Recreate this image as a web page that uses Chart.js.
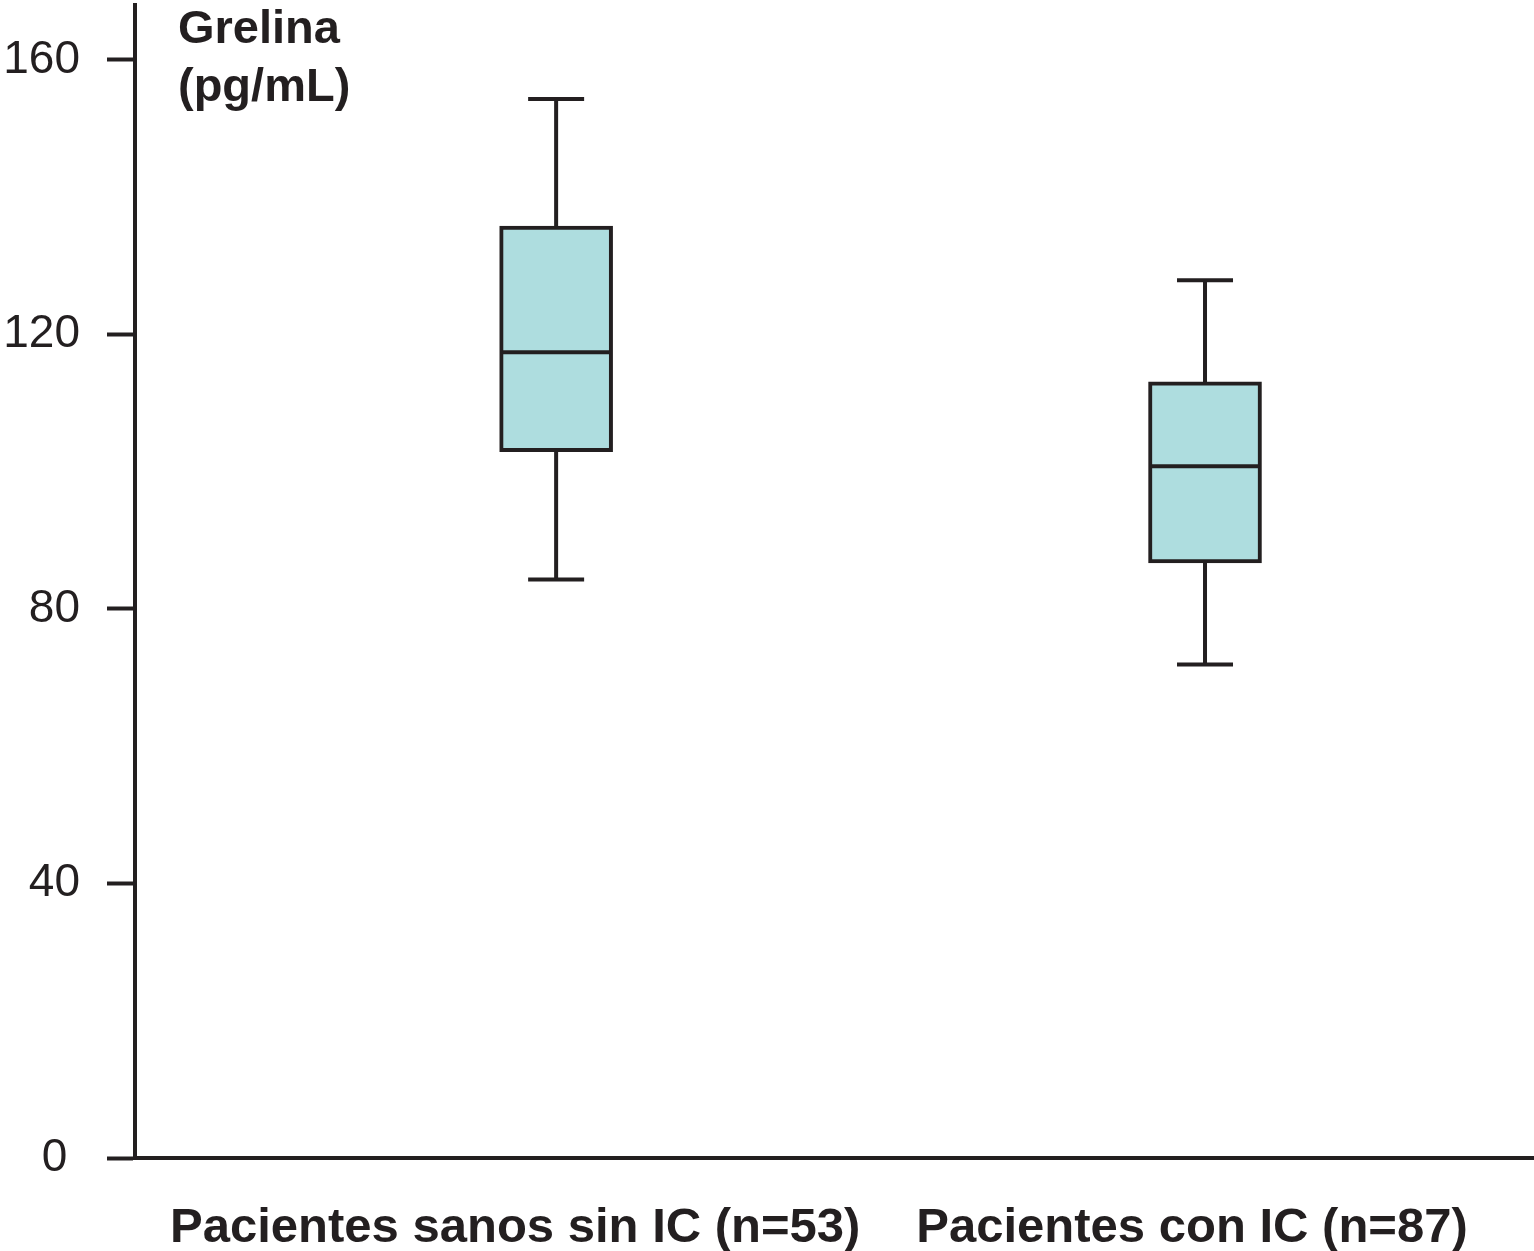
<!DOCTYPE html>
<html>
<head>
<meta charset="utf-8">
<script src="https://cdn.jsdelivr.net/npm/chart.js@4"></script>
<style>
  html, body { margin: 0; padding: 0; background: #ffffff; overflow: hidden; }
  #wrap { position: relative; width: 1534px; height: 1251px; }
</style>
</head>
<body>
<div id="wrap"><canvas id="c"></canvas></div>
<script>
// ---- data ----
const categories = ['Pacientes sanos sin IC (n=53)', 'Pacientes con IC (n=87)'];
const whiskerMin = [84.3, 71.9];
const q1 = [102.9, 86.7];
const median = [117.4, 100.8];
const q3 = [135.8, 113.1];
const whiskerMax = [154.3, 127.9];
const yTicks = [0, 40, 80, 120, 160];
const yTitle = ['Grelina', '(pg/mL)'];

// ---- styling / layout ----
const INK = '#231f20';
const BOX_FILL = '#aedddf';
const FONT = "'Liberation Sans', Arial, Helvetica, sans-serif";
const LABEL_NUDGE = [-0.063, -0.02]; // category label shift relative to box centre (x units)

const xPos = categories.map((_, i) => i + 1);

const datasets = [];
// whisker stems (drawn behind the boxes)
xPos.forEach((x, i) => {
  datasets.push({
    type: 'line',
    data: [{x: x, y: whiskerMin[i]}, {x: x, y: whiskerMax[i]}],
    borderColor: INK,
    borderWidth: 4,
    pointRadius: 0,
    fill: false,
    order: 3
  });
});
// boxes (q1..q3)
datasets.push({
  type: 'bar',
  data: xPos.map((x, i) => ({x: x, y: [q1[i], q3[i]]})),
  backgroundColor: BOX_FILL,
  borderColor: INK,
  borderWidth: 4,
  borderSkipped: false,
  barThickness: 113,
  order: 2
});
// medians
datasets.push({
  type: 'scatter',
  data: xPos.map((x, i) => ({x: x, y: median[i]})),
  pointStyle: 'line',
  pointRadius: 54,
  pointBorderWidth: 4,
  pointBorderColor: INK,
  borderColor: INK,
  order: 1
});
// whisker caps
datasets.push({
  type: 'scatter',
  data: xPos.map((x, i) => ({x: x, y: whiskerMin[i]})).concat(xPos.map((x, i) => ({x: x, y: whiskerMax[i]}))),
  pointStyle: 'line',
  pointRadius: 28,
  pointBorderWidth: 4,
  pointBorderColor: INK,
  borderColor: INK,
  order: 1
});

const titlePlugin = {
  id: 'yTitle',
  afterDraw(chart) {
    const ctx = chart.ctx;
    const a = chart.chartArea;
    ctx.save();
    ctx.fillStyle = INK;
    ctx.font = 'bold 47px ' + FONT;
    ctx.textAlign = 'left';
    ctx.textBaseline = 'alphabetic';
    yTitle.forEach((t, i) => ctx.fillText(t, a.left + 43, 43 + i * 58));
    ctx.restore();
  }
};

new Chart(document.getElementById('c'), {
  type: 'bar',
  data: { datasets: datasets },
  options: {
    responsive: true,
    maintainAspectRatio: false,
    animation: false,
    layout: { autoPadding: false, padding: { top: 5, right: 0, bottom: 0, left: 0 } },
    plugins: { legend: { display: false }, tooltip: { enabled: false } },
    scales: {
      x: {
        type: 'linear',
        min: 0.351,
        max: 2.507,
        offset: false,
        bounds: 'data',
        grid: { display: false, offset: false },
        border: { display: true, color: INK, width: 4 },
        afterBuildTicks: (scale) => { scale.ticks = xPos.map((v, i) => ({ value: v + LABEL_NUDGE[i] })); },
        afterFit: (scale) => { scale.paddingLeft = 0; scale.paddingRight = 0; scale.height = 93; },
        ticks: {
          autoSkip: false,
          maxRotation: 0,
          color: INK,
          font: { family: FONT, size: 49, weight: 'bold' },
          padding: 33,
          callback: (v, i) => categories[i]
        }
      },
      y: {
        type: 'linear',
        min: 0,
        max: 168,
        grid: { display: true, drawOnChartArea: false, color: INK, tickLength: 28, tickWidth: 4 },
        border: { display: true, color: INK, width: 4 },
        afterBuildTicks: (scale) => { scale.ticks = yTicks.map(v => ({ value: v })); },
        afterFit: (scale) => { scale.paddingTop = 0; scale.paddingBottom = 0; scale.width = 135; },
        ticks: {
          color: INK,
          font: { family: FONT, size: 46 },
          padding: 27,
          callback: (v) => (v === 0 ? '0 ' : String(v))
        }
      }
    }
  },
  plugins: [titlePlugin]
});
</script>
</body>
</html>
